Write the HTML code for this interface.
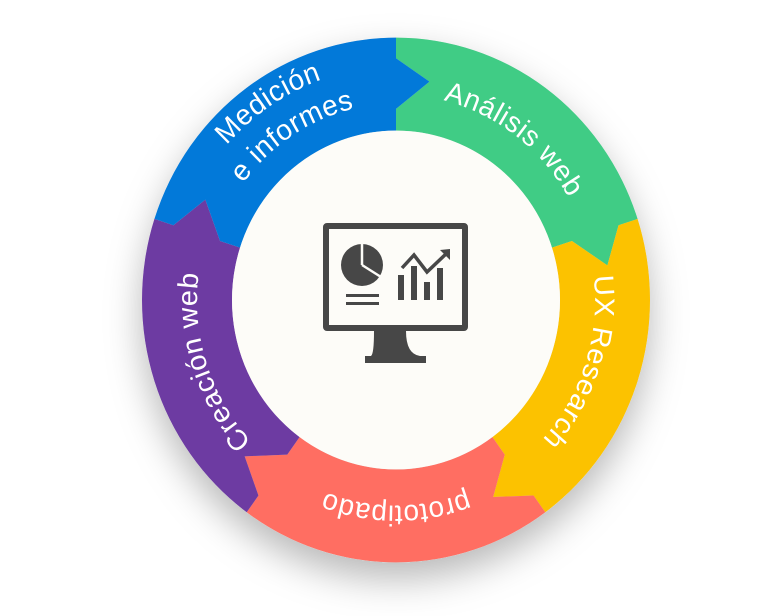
<!DOCTYPE html>
<html><head><meta charset="utf-8"><style>
html,body{margin:0;padding:0;background:#fff;width:768px;height:616px;overflow:hidden}
svg{display:block}
text{font-family:"Liberation Sans","DejaVu Sans",sans-serif;fill:#fff;font-size:28px;letter-spacing:0.5px}
</style></head><body>
<svg id="s" width="768" height="616" viewBox="0 0 768 616">
<defs>
<filter id="sh" x="-30%" y="-30%" width="160%" height="170%">
<feDropShadow dx="0" dy="16" stdDeviation="18" flood-color="#000" flood-opacity="0.28"/>
</filter>
</defs>
<g transform="translate(396,300) scale(1,1.033)">
<circle r="254" fill="#ddd" filter="url(#sh)"/>
<g id="segs"></g>
<circle r="164" fill="#fdfcf8"/>
<path id="c226" d="M0,-226 A226,226 0 1 1 0,226 A226,226 0 1 1 0,-226" fill="none"/>
<path id="c200" d="M0,-199 A199,199 0 1 1 0,199 A199,199 0 1 1 0,-199" fill="none"/>
<path id="c188" d="M0,-190 A190,190 0 1 1 0,190 A190,190 0 1 1 0,-190" fill="none"/>
<text><textPath href="#c200" startOffset="10.3%" text-anchor="middle">Análisis web</textPath></text>
<text><textPath href="#c200" startOffset="30%" text-anchor="middle">UX Research</textPath></text>
<text><textPath href="#c200" startOffset="50%" text-anchor="middle">prototipado</textPath></text>
<text><textPath href="#c200" startOffset="70%" text-anchor="middle">Creación web</textPath></text>
<text><textPath href="#c226" startOffset="90.6%" text-anchor="middle">Medición</textPath></text>
<text><textPath href="#c188" startOffset="90.8%" text-anchor="middle">e informes</textPath></text>
</g>
<!-- monitor -->
<g fill="#474747">
<rect x="326" y="226" width="139" height="102" fill="none" stroke="#474747" stroke-width="6" rx="1"/>
<path d="M374,331 L406,331 Q406,354 420,356 L426,356 L426,363 L365,363 L365,356 L371,356 Q374,354 374,331Z"/>
<circle cx="362" cy="265" r="21"/>
<path d="M362,265 L362,243 M362,265 L381,277" stroke="#fdfcf8" stroke-width="2.5" fill="none"/>
<rect x="346" y="294" width="33" height="3"/>
<rect x="346" y="302" width="33" height="3"/>
<rect x="398" y="275" width="6" height="25"/>
<rect x="411" y="266" width="6" height="34"/>
<rect x="424" y="282" width="6" height="18"/>
<rect x="437" y="268" width="6" height="32"/>
<path d="M402,268 L414,255 L427,272 L448,252" fill="none" stroke="#474747" stroke-width="3.5"/>
<path d="M450,249 L450,260 L440,250Z"/>
</g>
</svg>
<script>
(function(){
var R=254,r=164,ro=R-20,ri=r+21,rt=214,da=9;
function p(a,rad){a=a*Math.PI/180;return [(rad*Math.sin(a)).toFixed(2),(-rad*Math.cos(a)).toFixed(2)];}
var cols=["#40cc85","#fcc200","#ff6e62","#6d3ba2","#0279d9"];
var g=document.getElementById("segs"),h="";
for(var i=0;i<5;i++){
var a0=i*72,a1=a0+72;
var d="M"+p(a0,R)+" A"+R+","+R+" 0 0 1 "+p(a1,R)+" L"+p(a1,ro)+" L"+p(a1+da,rt)+" L"+p(a1,ri)+" L"+p(a1,r)+
" A"+r+","+r+" 0 0 0 "+p(a0,r)+" L"+p(a0,ri)+" L"+p(a0+da,rt)+" L"+p(a0,ro)+" Z";
h+='<path d="'+d+'" fill="'+cols[i]+'"/>';
}
g.innerHTML=h;
})();
</script>
</body></html>
